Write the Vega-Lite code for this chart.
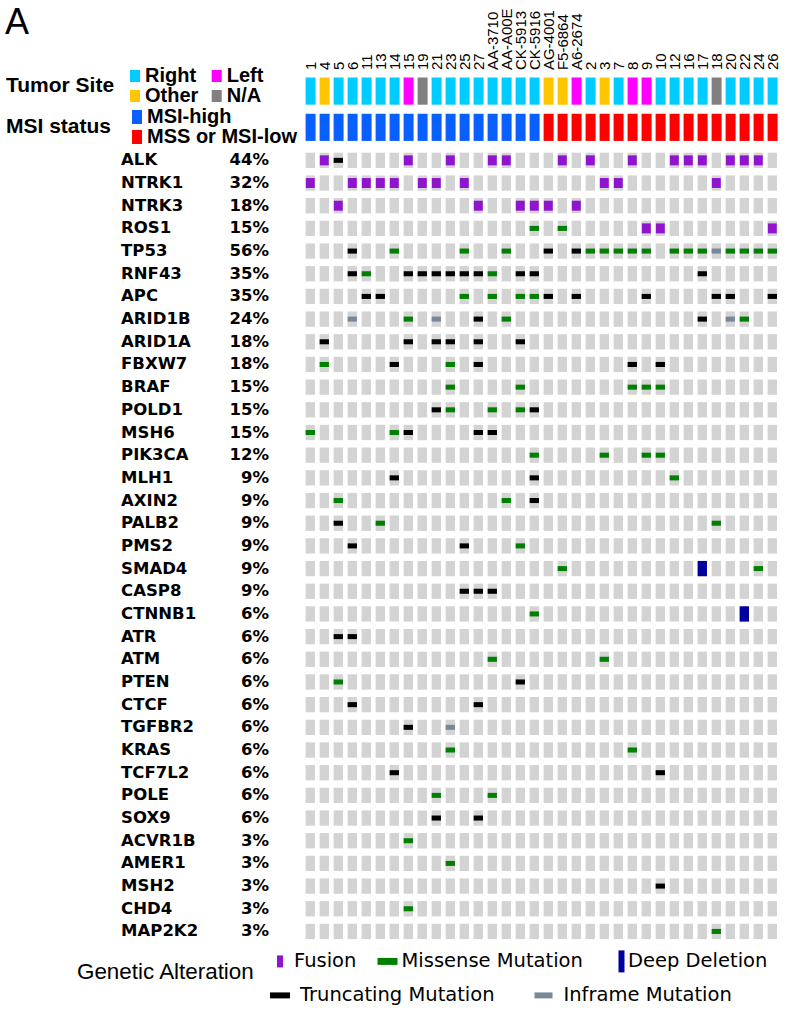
{
  "$schema": "https://vega.github.io/schema/vega-lite/v6.json",
  "padding": {"left": 5, "top": 5, "right": 5, "bottom": 5},
  "background": "white",
  "datasets": {
    "samples": [
      {"sample": "1", "site": "Right", "msi": "MSI-high"},
      {"sample": "4", "site": "Other", "msi": "MSI-high"},
      {"sample": "5", "site": "Right", "msi": "MSI-high"},
      {"sample": "6", "site": "Right", "msi": "MSI-high"},
      {"sample": "11", "site": "Right", "msi": "MSI-high"},
      {"sample": "13", "site": "Right", "msi": "MSI-high"},
      {"sample": "14", "site": "Right", "msi": "MSI-high"},
      {"sample": "15", "site": "Left", "msi": "MSI-high"},
      {"sample": "19", "site": "N/A", "msi": "MSI-high"},
      {"sample": "21", "site": "Right", "msi": "MSI-high"},
      {"sample": "23", "site": "Right", "msi": "MSI-high"},
      {"sample": "25", "site": "Right", "msi": "MSI-high"},
      {"sample": "27", "site": "Right", "msi": "MSI-high"},
      {"sample": "AA-3710", "site": "Right", "msi": "MSI-high"},
      {"sample": "AA-A00E", "site": "Right", "msi": "MSI-high"},
      {"sample": "CK-5913", "site": "Right", "msi": "MSI-high"},
      {"sample": "CK-5916", "site": "Right", "msi": "MSI-high"},
      {"sample": "AG-4001", "site": "Other", "msi": "MSS or MSI-low"},
      {"sample": "F5-6864", "site": "Other", "msi": "MSS or MSI-low"},
      {"sample": "A6-2674", "site": "Left", "msi": "MSS or MSI-low"},
      {"sample": "2", "site": "Right", "msi": "MSS or MSI-low"},
      {"sample": "3", "site": "Other", "msi": "MSS or MSI-low"},
      {"sample": "7", "site": "Right", "msi": "MSS or MSI-low"},
      {"sample": "8", "site": "Left", "msi": "MSS or MSI-low"},
      {"sample": "9", "site": "Left", "msi": "MSS or MSI-low"},
      {"sample": "10", "site": "Right", "msi": "MSS or MSI-low"},
      {"sample": "12", "site": "Right", "msi": "MSS or MSI-low"},
      {"sample": "16", "site": "Right", "msi": "MSS or MSI-low"},
      {"sample": "17", "site": "Right", "msi": "MSS or MSI-low"},
      {"sample": "18", "site": "N/A", "msi": "MSS or MSI-low"},
      {"sample": "20", "site": "Right", "msi": "MSS or MSI-low"},
      {"sample": "22", "site": "Right", "msi": "MSS or MSI-low"},
      {"sample": "24", "site": "Right", "msi": "MSS or MSI-low"},
      {"sample": "26", "site": "Right", "msi": "MSS or MSI-low"}
    ],
    "genes": [
      {"gene": "ALK", "pct": "44%", "4": "Fusion", "5": "Truncating Mutation", "15": "Fusion", "23": "Fusion", "AA-3710": "Fusion", "AA-A00E": "Fusion", "F5-6864": "Fusion", "2": "Fusion", "8": "Fusion", "12": "Fusion", "16": "Fusion", "17": "Fusion", "20": "Fusion", "22": "Fusion", "24": "Fusion"},
      {"gene": "NTRK1", "pct": "32%", "1": "Fusion", "6": "Fusion", "11": "Fusion", "13": "Fusion", "14": "Fusion", "19": "Fusion", "21": "Fusion", "25": "Fusion", "3": "Fusion", "7": "Fusion", "18": "Fusion"},
      {"gene": "NTRK3", "pct": "18%", "5": "Fusion", "27": "Fusion", "CK-5913": "Fusion", "CK-5916": "Fusion", "AG-4001": "Fusion", "A6-2674": "Fusion"},
      {"gene": "ROS1", "pct": "15%", "CK-5916": "Missense Mutation", "F5-6864": "Missense Mutation", "9": "Fusion", "10": "Fusion", "26": "Fusion"},
      {"gene": "TP53", "pct": "56%", "6": "Truncating Mutation", "14": "Missense Mutation", "25": "Missense Mutation", "AA-A00E": "Missense Mutation", "AG-4001": "Truncating Mutation", "A6-2674": "Truncating Mutation", "2": "Missense Mutation", "3": "Missense Mutation", "7": "Missense Mutation", "8": "Missense Mutation", "9": "Missense Mutation", "12": "Missense Mutation", "16": "Missense Mutation", "17": "Missense Mutation", "18": "Inframe Mutation", "20": "Missense Mutation", "22": "Missense Mutation", "24": "Missense Mutation", "26": "Missense Mutation"},
      {"gene": "RNF43", "pct": "35%", "6": "Truncating Mutation", "11": "Missense Mutation", "15": "Truncating Mutation", "19": "Truncating Mutation", "21": "Truncating Mutation", "23": "Truncating Mutation", "25": "Truncating Mutation", "27": "Truncating Mutation", "AA-3710": "Missense Mutation", "CK-5913": "Truncating Mutation", "CK-5916": "Truncating Mutation", "17": "Truncating Mutation"},
      {"gene": "APC", "pct": "35%", "11": "Truncating Mutation", "13": "Truncating Mutation", "25": "Missense Mutation", "AA-3710": "Missense Mutation", "CK-5913": "Missense Mutation", "CK-5916": "Missense Mutation", "AG-4001": "Truncating Mutation", "A6-2674": "Truncating Mutation", "9": "Truncating Mutation", "18": "Truncating Mutation", "20": "Truncating Mutation", "26": "Truncating Mutation"},
      {"gene": "ARID1B", "pct": "24%", "6": "Inframe Mutation", "15": "Missense Mutation", "21": "Inframe Mutation", "27": "Truncating Mutation", "AA-A00E": "Missense Mutation", "17": "Truncating Mutation", "20": "Inframe Mutation", "22": "Missense Mutation"},
      {"gene": "ARID1A", "pct": "18%", "4": "Truncating Mutation", "15": "Truncating Mutation", "21": "Truncating Mutation", "23": "Truncating Mutation", "27": "Truncating Mutation", "CK-5913": "Truncating Mutation"},
      {"gene": "FBXW7", "pct": "18%", "4": "Missense Mutation", "14": "Truncating Mutation", "23": "Missense Mutation", "27": "Truncating Mutation", "8": "Truncating Mutation", "10": "Truncating Mutation"},
      {"gene": "BRAF", "pct": "15%", "23": "Missense Mutation", "CK-5913": "Missense Mutation", "8": "Missense Mutation", "9": "Missense Mutation", "10": "Missense Mutation"},
      {"gene": "POLD1", "pct": "15%", "21": "Truncating Mutation", "23": "Missense Mutation", "AA-3710": "Missense Mutation", "CK-5913": "Missense Mutation", "CK-5916": "Truncating Mutation"},
      {"gene": "MSH6", "pct": "15%", "1": "Missense Mutation", "14": "Missense Mutation", "15": "Truncating Mutation", "27": "Truncating Mutation", "AA-3710": "Truncating Mutation"},
      {"gene": "PIK3CA", "pct": "12%", "CK-5916": "Missense Mutation", "3": "Missense Mutation", "9": "Missense Mutation", "10": "Missense Mutation"},
      {"gene": "MLH1", "pct": "9%", "14": "Truncating Mutation", "CK-5916": "Truncating Mutation", "12": "Missense Mutation"},
      {"gene": "AXIN2", "pct": "9%", "5": "Missense Mutation", "AA-A00E": "Missense Mutation", "CK-5916": "Truncating Mutation"},
      {"gene": "PALB2", "pct": "9%", "5": "Truncating Mutation", "13": "Missense Mutation", "18": "Missense Mutation"},
      {"gene": "PMS2", "pct": "9%", "6": "Truncating Mutation", "25": "Truncating Mutation", "CK-5913": "Missense Mutation"},
      {"gene": "SMAD4", "pct": "9%", "F5-6864": "Missense Mutation", "17": "Deep Deletion", "24": "Missense Mutation"},
      {"gene": "CASP8", "pct": "9%", "25": "Truncating Mutation", "27": "Truncating Mutation", "AA-3710": "Truncating Mutation"},
      {"gene": "CTNNB1", "pct": "6%", "CK-5916": "Missense Mutation", "22": "Deep Deletion"},
      {"gene": "ATR", "pct": "6%", "5": "Truncating Mutation", "6": "Truncating Mutation"},
      {"gene": "ATM", "pct": "6%", "AA-3710": "Missense Mutation", "3": "Missense Mutation"},
      {"gene": "PTEN", "pct": "6%", "5": "Missense Mutation", "CK-5913": "Truncating Mutation"},
      {"gene": "CTCF", "pct": "6%", "6": "Truncating Mutation", "27": "Truncating Mutation"},
      {"gene": "TGFBR2", "pct": "6%", "15": "Truncating Mutation", "23": "Inframe Mutation"},
      {"gene": "KRAS", "pct": "6%", "23": "Missense Mutation", "8": "Missense Mutation"},
      {"gene": "TCF7L2", "pct": "6%", "14": "Truncating Mutation", "10": "Truncating Mutation"},
      {"gene": "POLE", "pct": "6%", "21": "Missense Mutation", "AA-3710": "Missense Mutation"},
      {"gene": "SOX9", "pct": "6%", "21": "Truncating Mutation", "27": "Truncating Mutation"},
      {"gene": "ACVR1B", "pct": "3%", "15": "Missense Mutation"},
      {"gene": "AMER1", "pct": "3%", "23": "Missense Mutation"},
      {"gene": "MSH2", "pct": "3%", "10": "Truncating Mutation"},
      {"gene": "CHD4", "pct": "3%", "15": "Missense Mutation"},
      {"gene": "MAP2K2", "pct": "3%", "18": "Missense Mutation"}
    ]
  },
  "columns": 2,
  "align": "each",
  "bounds": "flush",
  "spacing": {"row": 11.7, "column": 36.6},
  "resolve": {
    "scale": {"color": "independent", "shape": "independent", "x": "independent", "y": "independent"},
    "legend": {"color": "independent", "shape": "independent"}
  },
  "concat": [
    {
      "width": 1,
      "height": 74,
      "title": {"text": "A", "anchor": "start", "fontSize": 36, "fontWeight": "normal", "font": "Liberation Sans", "offset": 24, "color": "black", "frame": "group"},
      "data": {"name": "samples"},
      "layer": [
        {
          "mark": {"type": "square", "opacity": 0, "size": 1},
          "encoding": {
            "color": {
              "field": "site", "type": "nominal",
              "scale": {"domain": ["Right", "Other", "Left", "N/A"], "range": ["#00CCFF", "#FFC600", "#FF00FF", "#808080"]},
              "legend": {
                "title": "Tumor Site", "orient": "right", "offset": 0, "columns": 2, "padding": 0,
                "titleOrient": "left", "titleAnchor": "middle", "titleBaseline": "middle",
                "titleFont": "Liberation Sans", "titleFontSize": 21, "titleFontWeight": "bold", "titleColor": "black", "titlePadding": 10,
                "labelFont": "Liberation Sans", "labelFontSize": 20, "labelFontWeight": "bold", "labelColor": "black", "labelOffset": 0,
                "symbolType": "M-1,-1.2H1V1.2H-1Z", "symbolSize": 100, "symbolStrokeWidth": 0, "symbolOpacity": 1,
                "columnPadding": 7.7, "rowPadding": -5.2
              }
            }
          }
        },
        {
          "mark": {"type": "square", "opacity": 0, "size": 1},
          "encoding": {
            "color": {
              "field": "msi", "type": "nominal",
              "scale": {"domain": ["MSI-high", "MSS or MSI-low"], "range": ["#0A60FF", "#FF0000"]},
              "legend": {
                "title": "MSI status", "orient": "right", "offset": 0, "columns": 1, "padding": 0,
                "titleOrient": "left", "titleAnchor": "middle", "titleBaseline": "middle",
                "titleFont": "Liberation Sans", "titleFontSize": 21, "titleFontWeight": "bold", "titleColor": "black", "titlePadding": 15,
                "labelFont": "Liberation Sans", "labelFontSize": 20, "labelFontWeight": "bold", "labelColor": "black", "labelOffset": 0, "labelLimit": 300,
                "symbolType": "M-1,-1.4H1V1.4H-1Z", "symbolSize": 100, "symbolStrokeWidth": 0, "symbolOpacity": 1,
                "rowPadding": 0
              }
            }
          }
        }
      ],
      "resolve": {"scale": {"color": "independent"}}
    },
    {
      "width": 472,
      "height": 74.94,
      "data": {"name": "samples"},
      "transform": [{"fold": ["site", "msi"], "as": ["track", "value"]}],
      "mark": {"type": "rect"},
      "encoding": {
        "x": {
          "field": "sample", "type": "nominal",
          "scale": {"type": "band", "domain": ["1", "4", "5", "6", "11", "13", "14", "15", "19", "21", "23", "25", "27", "AA-3710", "AA-A00E", "CK-5913", "CK-5916", "AG-4001", "F5-6864", "A6-2674", "2", "3", "7", "8", "9", "10", "12", "16", "17", "18", "20", "22", "24", "26"], "paddingInner": 0.286, "paddingOuter": 0},
          "axis": {"orient": "top", "title": null, "domain": false, "ticks": false, "labelAngle": -90, "labelAlign": "left", "labelBaseline": "middle", "labelFont": "Liberation Sans", "labelFontSize": 15, "labelColor": "black", "labelPadding": 2, "offset": -5.6, "labelOverlap": false, "labelFlush": false, "labelLimit": 200}
        },
        "y": {
          "field": "track", "type": "nominal",
          "scale": {"type": "band", "domain": ["site", "msi"], "paddingInner": 0.25, "paddingOuter": 0.1586, "align": 1},
          "axis": null
        },
        "color": {
          "field": "value", "type": "nominal",
          "scale": {"domain": ["Right", "Left", "Other", "N/A", "MSI-high", "MSS or MSI-low"], "range": ["#00CCFF", "#FF00FF", "#FFC600", "#808080", "#0A60FF", "#FF0000"]},
          "legend": null
        }
      }
    },
    {
      "width": 264,
      "height": 786.4,
      "data": {"name": "genes"},
      "mark": {"type": "text", "align": "right", "baseline": "middle", "font": "DejaVu Sans", "fontWeight": "bold", "fontSize": 16.5, "color": "black"},
      "encoding": {
        "y": {
          "field": "gene", "type": "nominal",
          "scale": {"type": "band", "domain": ["ALK", "NTRK1", "NTRK3", "ROS1", "TP53", "RNF43", "APC", "ARID1B", "ARID1A", "FBXW7", "BRAF", "POLD1", "MSH6", "PIK3CA", "MLH1", "AXIN2", "PALB2", "PMS2", "SMAD4", "CASP8", "CTNNB1", "ATR", "ATM", "PTEN", "CTCF", "TGFBR2", "KRAS", "TCF7L2", "POLE", "SOX9", "ACVR1B", "AMER1", "MSH2", "CHD4", "MAP2K2"], "paddingInner": 0.325, "paddingOuter": 0},
          "axis": null
        },
        "x": {"value": "width"},
        "text": {"field": "pct"}
      }
    },
    {
      "width": 471.4,
      "height": 786.4,
      "data": {"name": "genes"},
      "transform": [{"fold": ["1", "4", "5", "6", "11", "13", "14", "15", "19", "21", "23", "25", "27", "AA-3710", "AA-A00E", "CK-5913", "CK-5916", "AG-4001", "F5-6864", "A6-2674", "2", "3", "7", "8", "9", "10", "12", "16", "17", "18", "20", "22", "24", "26"], "as": ["sample", "type"]}],
      "encoding": {
        "x": {
          "field": "sample", "type": "nominal",
          "scale": {"type": "band", "domain": ["1", "4", "5", "6", "11", "13", "14", "15", "19", "21", "23", "25", "27", "AA-3710", "AA-A00E", "CK-5913", "CK-5916", "AG-4001", "F5-6864", "A6-2674", "2", "3", "7", "8", "9", "10", "12", "16", "17", "18", "20", "22", "24", "26"], "paddingInner": 0.33, "paddingOuter": 0},
          "axis": null
        },
        "y": {
          "field": "gene", "type": "nominal",
          "scale": {"type": "band", "domain": ["ALK", "NTRK1", "NTRK3", "ROS1", "TP53", "RNF43", "APC", "ARID1B", "ARID1A", "FBXW7", "BRAF", "POLD1", "MSH6", "PIK3CA", "MLH1", "AXIN2", "PALB2", "PMS2", "SMAD4", "CASP8", "CTNNB1", "ATR", "ATM", "PTEN", "CTCF", "TGFBR2", "KRAS", "TCF7L2", "POLE", "SOX9", "ACVR1B", "AMER1", "MSH2", "CHD4", "MAP2K2"], "paddingInner": 0.325, "paddingOuter": 0},
          "axis": {"orient": "left", "title": null, "domain": false, "ticks": false, "labelAlign": "left", "labelBaseline": "middle", "labelPadding": 185, "labelFont": "DejaVu Sans", "labelFontWeight": "bold", "labelFontSize": 16.5, "labelColor": "black", "labelLimit": 200}
        }
      },
      "layer": [
        {"mark": {"type": "rect", "color": "#D3D3D3"}},
        {
          "transform": [{"filter": "isValid(datum.type)"}],
          "mark": {"type": "point", "filled": true, "opacity": 1, "size": 87, "strokeWidth": 0},
          "encoding": {
            "color": {
              "field": "type", "type": "nominal",
              "scale": {"domain": ["Fusion", "Missense Mutation", "Deep Deletion", "Truncating Mutation", "Inframe Mutation"], "range": ["#9013CE", "#008000", "#0000A0", "#000000", "#778899"]},
              "legend": null
            },
            "shape": {
              "field": "type", "type": "nominal",
              "scale": {"domain": ["Fusion", "Missense Mutation", "Deep Deletion", "Truncating Mutation", "Inframe Mutation"], "range": ["M-0.96,-1.07H0.96V1.07H-0.96Z", "M-1,-0.54H1V0.54H-1Z", "M-1,-1.64H1V1.64H-1Z", "M-1,-0.54H1V0.54H-1Z", "M-1,-0.54H1V0.54H-1Z"]},
              "legend": null
            }
          }
        }
      ]
    },
    {
      "width": 1,
      "height": 50,
      "data": {"name": "genes"},
      "transform": [
        {"fold": ["1", "4", "5", "6", "11", "13", "14", "15", "19", "21", "23", "25", "27", "AA-3710", "AA-A00E", "CK-5913", "CK-5916", "AG-4001", "F5-6864", "A6-2674", "2", "3", "7", "8", "9", "10", "12", "16", "17", "18", "20", "22", "24", "26"], "as": ["sample", "type"]},
        {"filter": "isValid(datum.type)"}
      ],
      "layer": [
        {
          "transform": [{"filter": {"field": "type", "oneOf": ["Fusion", "Missense Mutation", "Deep Deletion"]}}],
          "mark": {"type": "square", "opacity": 0, "size": 1},
          "encoding": {
            "color": {
              "field": "type", "type": "nominal",
              "scale": {"domain": ["Fusion", "Missense Mutation", "Deep Deletion"], "range": ["#9013CE", "#008000", "#0000A0"]},
              "legend": {
                "title": "Genetic Alteration", "orient": "right", "offset": 70.7, "columns": 3, "gridAlign": "none", "columnPadding": 20.5, "padding": 0,
                "titleOrient": "left", "titleAnchor": "end", "titleBaseline": "middle",
                "titleFont": "Liberation Sans", "titleFontSize": 22.4, "titleFontWeight": "normal", "titleColor": "black", "titlePadding": 15, "titleLimit": 400,
                "labelFont": "DejaVu Sans", "labelFontSize": 19.5, "labelColor": "black", "labelOffset": 4, "labelLimit": 400,
                "symbolSize": 400, "symbolStrokeWidth": 0, "symbolOpacity": 1,
                "encode": {"symbols": {"update": {"shape": {"signal": "datum.value === 'Fusion' ? 'M-0.3,-0.6H0.3V0.6H-0.3Z' : datum.value === 'Deep Deletion' ? 'M0.45,-1.1H1.05V1.1H0.45Z' : 'M-1,-0.35H1V0.35H-1Z'"}}}}
              }
            }
          }
        },
        {
          "transform": [{"filter": {"field": "type", "oneOf": ["Truncating Mutation", "Inframe Mutation"]}}],
          "mark": {"type": "square", "opacity": 0, "size": 1},
          "encoding": {
            "color": {
              "field": "type", "type": "nominal",
              "scale": {"domain": ["Truncating Mutation", "Inframe Mutation"], "range": ["#000000", "#778899"]},
              "legend": {
                "title": "Genetic Alteration", "orient": "right", "offset": 70.7, "columns": 2, "gridAlign": "none", "columnPadding": 38.5, "padding": 0,
                "titleOrient": "left", "titleAnchor": "start", "titleBaseline": "top", "titleOpacity": 0,
                "titleFont": "Liberation Sans", "titleFontSize": 22.4, "titleFontWeight": "normal", "titlePadding": 15, "titleLimit": 400,
                "labelFont": "DejaVu Sans", "labelFontSize": 19.5, "labelColor": "black", "labelOffset": 10, "labelLimit": 400,
                "symbolSize": 400, "symbolStrokeWidth": 0, "symbolOpacity": 1,
                "encode": {"symbols": {"update": {"shape": {"signal": "datum.value === 'Inframe Mutation' ? 'M-0.9,-0.3H0.9V0.3H-0.9Z' : 'M-1,-0.3H1V0.3H-1Z'"}}}}
              }
            }
          }
        }
      ],
      "resolve": {"scale": {"color": "independent"}}
    }
  ],
  "config": {
    "font": "Liberation Sans",
    "view": {"stroke": null},
    "legend": {"layout": {"right": {"anchor": "start", "direction": "vertical", "margin": 1, "center": false, "bounds": "full"}}}
  }
}
